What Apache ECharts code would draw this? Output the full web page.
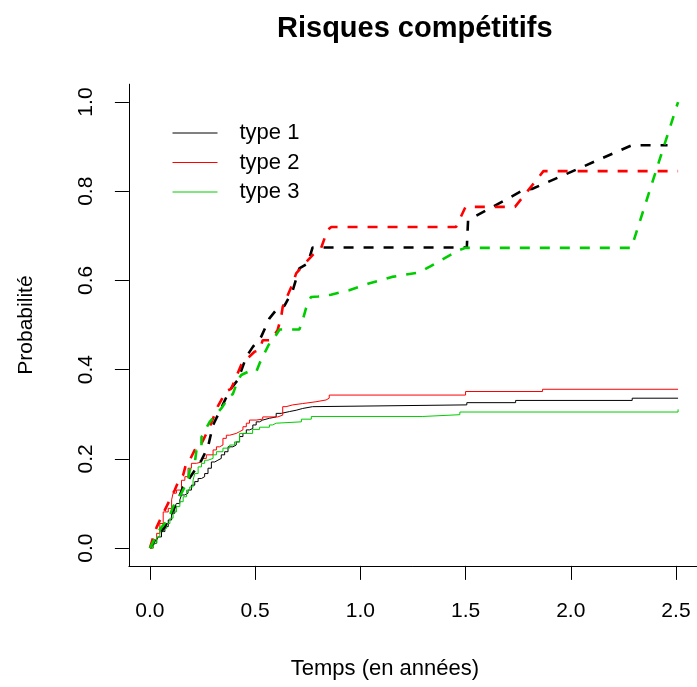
<!DOCTYPE html>
<html>
<head>
<meta charset="utf-8">
<script src="https://cdn.jsdelivr.net/npm/echarts@6/dist/echarts.min.js"></script>
<style>html,body{margin:0;padding:0;background:#fff}#chart{width:697px;height:687px}</style>
</head>
<body>
<div id="chart"></div>
<script>
// ---- data ----
var xTicks = [0, 0.5, 1.0, 1.5, 2.0, 2.5];
var yTicks = [0, 0.2, 0.4, 0.6, 0.8, 1.0];
var seriesNames = ['type 1', 'type 2', 'type 3'];

// solid step curves
var t1 = [0, 0.008, 0.016, 0.032, 0.039, 0.055, 0.071, 0.087, 0.103, 0.118, 0.126, 0.142, 0.150, 0.166, 0.181, 0.197, 0.213, 0.229, 0.245, 0.260, 0.276, 0.292, 0.308, 0.323, 0.339, 0.355, 0.371, 0.394, 0.410, 0.426, 0.442, 0.458, 0.473, 0.489, 0.505, 0.521, 0.536, 0.568, 0.600, 0.624, 0.663, 0.695, 0.726, 0.773, 1.506, 1.738, 2.292, 2.51];
var p1 = [0, 0.007, 0.011, 0.018, 0.025, 0.037, 0.048, 0.063, 0.078, 0.093, 0.100, 0.108, 0.119, 0.123, 0.130, 0.141, 0.149, 0.156, 0.160, 0.167, 0.179, 0.193, 0.197, 0.201, 0.209, 0.216, 0.227, 0.231, 0.238, 0.250, 0.257, 0.265, 0.268, 0.276, 0.283, 0.287, 0.291, 0.294, 0.302, 0.306, 0.309, 0.313, 0.317, 0.321, 0.326, 0.331, 0.336, 0.336];

var t2 = [0, 0.016, 0.032, 0.047, 0.063, 0.087, 0.103, 0.110, 0.126, 0.150, 0.166, 0.181, 0.197, 0.221, 0.245, 0.268, 0.300, 0.316, 0.331, 0.347, 0.363, 0.379, 0.410, 0.426, 0.442, 0.458, 0.473, 0.505, 0.536, 0.607, 0.631, 0.647, 0.679, 0.726, 0.789, 0.837, 0.852, 1.50, 1.866, 2.51];
var p2 = [0, 0.018, 0.033, 0.055, 0.081, 0.089, 0.108, 0.123, 0.130, 0.152, 0.160, 0.179, 0.190, 0.193, 0.201, 0.209, 0.220, 0.227, 0.231, 0.246, 0.253, 0.257, 0.261, 0.265, 0.272, 0.280, 0.287, 0.289, 0.294, 0.298, 0.317, 0.321, 0.324, 0.328, 0.332, 0.336, 0.343, 0.351, 0.356, 0.356];

var t3 = [0, 0.016, 0.032, 0.047, 0.063, 0.079, 0.095, 0.110, 0.126, 0.142, 0.158, 0.174, 0.189, 0.205, 0.213, 0.229, 0.245, 0.260, 0.276, 0.300, 0.316, 0.347, 0.379, 0.402, 0.426, 0.488, 0.521, 0.568, 0.582, 0.601, 0.720, 0.767, 1.297, 1.473, 2.51];
var p3 = [0, 0.011, 0.025, 0.037, 0.044, 0.055, 0.067, 0.081, 0.093, 0.104, 0.115, 0.130, 0.137, 0.152, 0.167, 0.182, 0.190, 0.197, 0.201, 0.209, 0.216, 0.224, 0.231, 0.238, 0.257, 0.266, 0.271, 0.276, 0.280, 0.283, 0.289, 0.295, 0.299, 0.305, 0.311];

// dashed curves
var d1x = [0, 0.024, 0.071, 0.095, 0.126, 0.158, 0.181, 0.245, 0.276, 0.300, 0.331, 0.379, 0.418, 0.458, 0.489, 0.529, 0.568, 0.616, 0.639, 0.679, 0.710, 0.750, 0.773, 1.506, 1.512, 1.78, 1.815, 2.29, 2.46];
var d1y = [0, 0.018, 0.048, 0.070, 0.100, 0.137, 0.152, 0.197, 0.227, 0.276, 0.306, 0.354, 0.377, 0.429, 0.451, 0.474, 0.515, 0.543, 0.543, 0.578, 0.627, 0.638, 0.674, 0.674, 0.735, 0.804, 0.805, 0.903, 0.903];

var d2x = [0, 0.016, 0.032, 0.055, 0.110, 0.118, 0.142, 0.158, 0.174, 0.189, 0.213, 0.229, 0.253, 0.284, 0.323, 0.363, 0.386, 0.434, 0.450, 0.497, 0.521, 0.536, 0.576, 0.607, 0.624, 0.631, 0.679, 0.695, 0.773, 0.813, 0.844, 0.862, 1.455, 1.50, 1.735, 1.87, 2.51];
var d2y = [0, 0.025, 0.047, 0.070, 0.123, 0.130, 0.157, 0.164, 0.193, 0.197, 0.220, 0.220, 0.242, 0.272, 0.318, 0.352, 0.357, 0.411, 0.419, 0.440, 0.444, 0.466, 0.466, 0.489, 0.519, 0.541, 0.593, 0.616, 0.657, 0.672, 0.713, 0.720, 0.720, 0.765, 0.765, 0.845, 0.845];

var d3x = [0, 0.024, 0.039, 0.071, 0.095, 0.110, 0.150, 0.181, 0.189, 0.213, 0.221, 0.245, 0.245, 0.284, 0.339, 0.379, 0.394, 0.418, 0.434, 0.465, 0.505, 0.521, 0.536, 0.568, 0.584, 0.616, 0.710, 0.726, 0.742, 0.765, 0.80, 0.86, 0.947, 1.04, 1.15, 1.28, 1.33, 1.42, 1.47, 1.50, 2.288, 2.51];
var d3y = [0, 0.022, 0.037, 0.056, 0.074, 0.093, 0.123, 0.152, 0.175, 0.190, 0.219, 0.219, 0.249, 0.283, 0.313, 0.341, 0.345, 0.377, 0.388, 0.395, 0.395, 0.414, 0.429, 0.459, 0.466, 0.490, 0.490, 0.511, 0.538, 0.563, 0.564, 0.568, 0.578, 0.593, 0.608, 0.618, 0.631, 0.655, 0.668, 0.673, 0.673, 1.0];

// ---- build ----
function zip(a, b) { return a.map(function (v, i) { return [v, b[i]]; }); }
var colors = ['#000000', '#FF0000', '#00CD00'];
var FONT = '"Liberation Sans", Arial, Helvetica, sans-serif';

function solid(name, x, y, c) {
  return { name: name, type: 'line', step: 'end', data: zip(x, y), symbol: 'none', color: c,
    lineStyle: { color: c, width: 1 }, itemStyle: { color: c }, z: 2, silent: true };
}
function dashed(name, x, y, c) {
  return { name: name, type: 'line', data: zip(x, y), symbol: 'none', color: c,
    lineStyle: { color: c, width: 2.6, type: [10, 10], cap: 'butt' }, itemStyle: { color: c }, z: 3, silent: true };
}

var chart = echarts.init(document.getElementById('chart'), null, { renderer: 'canvas' });
chart.setOption({
  animation: false,
  backgroundColor: '#ffffff',
  color: colors,
  textStyle: { fontFamily: FONT },
  title: {
    text: 'Risques compétitifs',
    left: 277, top: 14,
    padding: 0,
    textStyle: { fontFamily: FONT, fontWeight: 'bold', fontSize: 29, color: '#000' }
  },
  legend: {
    data: seriesNames,
    orient: 'vertical',
    left: 172, top: 122,
    padding: 0,
    itemWidth: 45, itemHeight: 14, itemGap: 7.5,
    itemStyle: { opacity: 0 },
    lineStyle: { width: 1 },
    textStyle: { fontFamily: FONT, fontSize: 22, color: '#000', lineHeight: 22, padding: [0, 0, 0, 17] }
  },
  grid: { left: 128.9, top: 84.2, width: 570.24, height: 481.7, containLabel: false },
  xAxis: {
    type: 'value', min: -0.1, max: 2.6,
    name: 'Temps (en années)', nameLocation: 'middle', nameGap: 92,
    nameTextStyle: { fontFamily: FONT, fontSize: 22, color: '#000', padding: [0, 56, 0, 0] },
    axisLine: { show: true, onZero: false, lineStyle: { color: '#000', width: 1 } },
    axisTick: { show: true, length: 14, customValues: xTicks, lineStyle: { color: '#000', width: 1 } },
    axisLabel: { customValues: xTicks, margin: 35, fontSize: 21, color: '#000', fontFamily: FONT,
      formatter: function (v) { return v.toFixed(1); } },
    splitLine: { show: false }
  },
  yAxis: {
    type: 'value', min: -0.04, max: 1.04,
    name: 'Probabilité', nameLocation: 'middle', nameGap: 92,
    nameTextStyle: { fontFamily: FONT, fontSize: 21, color: '#000' },
    axisLine: { show: true, onZero: false, lineStyle: { color: '#000', width: 1 } },
    axisTick: { show: true, length: 14, customValues: yTicks, lineStyle: { color: '#000', width: 1 } },
    axisLabel: { customValues: yTicks, rotate: 90, margin: 32, fontSize: 21, color: '#000', fontFamily: FONT,
      formatter: function (v) { return v.toFixed(1); } },
    splitLine: { show: false }
  },
  series: [
    solid('type 1', t1, p1, colors[0]),
    solid('type 2', t2, p2, colors[1]),
    solid('type 3', t3, p3, colors[2]),
    dashed('type 1 (pointillés)', d1x, d1y, colors[0]),
    dashed('type 2 (pointillés)', d2x, d2y, colors[1]),
    dashed('type 3 (pointillés)', d3x, d3y, colors[2])
  ]
});
</script>
</body>
</html>
